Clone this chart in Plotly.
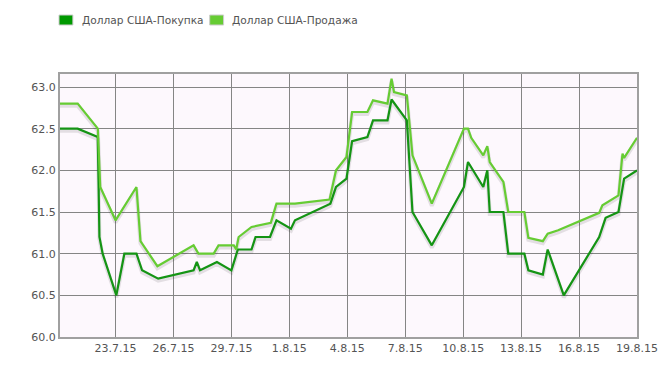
import plotly.graph_objects as go

buy_dates = [
    "2015-07-20 03:00", "2015-07-21 01:00", "2015-07-22 02:00", "2015-07-22 04:00",
    "2015-07-22 08:00", "2015-07-23 01:00", "2015-07-23 11:00", "2015-07-24 02:00",
    "2015-07-24 09:00", "2015-07-25 05:00", "2015-07-27 01:00", "2015-07-27 05:00",
    "2015-07-27 09:00", "2015-07-28 06:00", "2015-07-29 00:00", "2015-07-29 08:00",
    "2015-07-30 01:00", "2015-07-30 06:00", "2015-07-31 00:00", "2015-07-31 08:00",
    "2015-08-01 02:00", "2015-08-01 07:00", "2015-08-03 03:00", "2015-08-03 10:00",
    "2015-08-03 23:00", "2015-08-04 06:00", "2015-08-05 01:00", "2015-08-05 08:00",
    "2015-08-06 02:00", "2015-08-06 07:00", "2015-08-07 02:00", "2015-08-07 09:00",
    "2015-08-08 09:00", "2015-08-10 01:00", "2015-08-10 06:00", "2015-08-11 01:00",
    "2015-08-11 06:00", "2015-08-11 09:00", "2015-08-12 02:00", "2015-08-12 08:00",
    "2015-08-13 04:00", "2015-08-13 09:00", "2015-08-14 03:00", "2015-08-14 09:00",
    "2015-08-15 05:00", "2015-08-17 01:00", "2015-08-17 09:00", "2015-08-18 01:00",
    "2015-08-18 08:00", "2015-08-19 00:00",
]
buy_values = [
    62.5, 62.5, 62.4, 61.2,
    61.0, 60.5, 61.0, 61.0,
    60.8, 60.7, 60.8, 60.9,
    60.8, 60.9, 60.8, 61.05,
    61.05, 61.2, 61.2, 61.4,
    61.3, 61.4, 61.6, 61.8,
    61.9, 62.35, 62.4, 62.6,
    62.6, 62.85, 62.6, 61.5,
    61.1, 61.8, 62.1, 61.8,
    62.0, 61.5, 61.5, 61.0,
    61.0, 60.8, 60.75, 61.05,
    60.5, 61.2, 61.43, 61.5,
    61.9, 62.0,
]

sell_dates = [
    "2015-07-20 03:00", "2015-07-21 01:00", "2015-07-22 02:00", "2015-07-22 05:00",
    "2015-07-23 00:00", "2015-07-24 02:00", "2015-07-24 07:00", "2015-07-25 04:00",
    "2015-07-27 01:00", "2015-07-27 07:00", "2015-07-28 02:00", "2015-07-28 08:00",
    "2015-07-29 03:00", "2015-07-29 06:00", "2015-07-29 09:00", "2015-07-30 01:00",
    "2015-07-31 01:00", "2015-07-31 08:00", "2015-08-01 07:00", "2015-08-03 02:00",
    "2015-08-03 10:00", "2015-08-03 23:00", "2015-08-04 06:00", "2015-08-05 01:00",
    "2015-08-05 08:00", "2015-08-06 02:00", "2015-08-06 07:00", "2015-08-06 10:00",
    "2015-08-07 02:00", "2015-08-07 09:00", "2015-08-08 09:00", "2015-08-10 01:00",
    "2015-08-10 06:00", "2015-08-10 10:00", "2015-08-11 01:00", "2015-08-11 06:00",
    "2015-08-11 09:00", "2015-08-12 02:00", "2015-08-12 08:00", "2015-08-13 04:00",
    "2015-08-13 09:00", "2015-08-14 03:00", "2015-08-14 09:00", "2015-08-14 22:00",
    "2015-08-17 01:00", "2015-08-17 05:00", "2015-08-18 01:00", "2015-08-18 06:00",
    "2015-08-18 08:00", "2015-08-19 00:00",
]
sell_values = [
    62.8, 62.8, 62.5, 61.8,
    61.4, 61.8, 61.15, 60.85,
    61.1, 61.0, 61.0, 61.1,
    61.1, 61.05, 61.2, 61.32,
    61.37, 61.6, 61.6, 61.65,
    62.0, 62.16, 62.7, 62.7,
    62.84, 62.8, 63.1, 62.94,
    62.9, 62.18, 61.6, 62.5,
    62.5, 62.39, 62.18, 62.29,
    62.1, 61.86, 61.5, 61.5,
    61.19, 61.15, 61.24, 61.28,
    61.49, 61.58, 61.7, 62.2,
    62.15, 62.39,
]

tick_dates = ["2015-07-23", "2015-07-26", "2015-07-29", "2015-08-01", "2015-08-04",
              "2015-08-07", "2015-08-10", "2015-08-13", "2015-08-16", "2015-08-19"]
tick_labels = ["23.7.15", "26.7.15", "29.7.15", "1.8.15", "4.8.15",
               "7.8.15", "10.8.15", "13.8.15", "16.8.15", "19.8.15"]
y_ticks = [60.0, 60.5, 61.0, 61.5, 62.0, 62.5, 63.0]

series_names = ["Доллар США-Покупка", "Доллар США-Продажа"]
series_colors = ["#149414", "#66cc33"]
legend_colors = ["#009900", "#66cc33"]

fig = go.Figure()
for dates, vals, color in [(buy_dates, buy_values, series_colors[0]),
                           (sell_dates, sell_values, series_colors[1])]:
    # soft shadow
    fig.add_trace(go.Scatter(x=dates, y=[v - 0.025 for v in vals], mode="lines",
                             line=dict(color="rgba(0,0,0,0.10)", width=4),
                             showlegend=False, hoverinfo="skip"))
for dates, vals, color, name in [(buy_dates, buy_values, series_colors[0], series_names[0]),
                                 (sell_dates, sell_values, series_colors[1], series_names[1])]:
    fig.add_trace(go.Scatter(x=dates, y=vals, mode="lines", name=name,
                             line=dict(color=color, width=2.2), showlegend=False))

L, R, T, B = 60, 28, 74, 31
W, H = 670, 368
pw, ph = W - L - R, H - T - B

def px(x):
    return (x - L) / pw

def py(y):
    return (H - B - y) / ph

shapes = []
annotations = []
legend_boxes = [(59, 211), (80, 231)]
for i in range(2):
    bx = legend_boxes[0][i]
    shapes.append(dict(type="rect", xref="paper", yref="paper",
                       x0=px(bx), x1=px(bx + 14), y0=py(25), y1=py(15),
                       fillcolor=legend_colors[i], line=dict(color="#cccccc", width=1)))
    annotations.append(dict(text=series_names[i], xref="paper", yref="paper",
                            x=px(legend_boxes[1][i]), y=py(20), xanchor="left",
                            yanchor="middle", showarrow=False,
                            font=dict(family="DejaVu Sans", size=10.6, color="#545454")))

fig.update_layout(
    width=W, height=H,
    margin=dict(l=L, r=R, t=T, b=B),
    paper_bgcolor="white",
    plot_bgcolor="#fdf8fd",
    font=dict(family="DejaVu Sans", size=11, color="#545454"),
    shapes=shapes,
    annotations=annotations,
    showlegend=False,
)
fig.update_xaxes(
    type="date",
    range=["2015-07-20 03:00", "2015-08-19 00:00"],
    tickvals=tick_dates, ticktext=tick_labels,
    showgrid=True, gridcolor="#858585", gridwidth=1,
    showline=True, linecolor="#a0a0a0", linewidth=2, mirror=True,
    ticks="", zeroline=False,
)
fig.update_yaxes(
    range=[60.0, 63.156],
    tickvals=y_ticks, tickformat=".1f",
    showgrid=True, gridcolor="#858585", gridwidth=1,
    showline=True, linecolor="#a0a0a0", linewidth=2, mirror=True,
    ticks="", zeroline=False,
)

fig.write_html("out.html")
